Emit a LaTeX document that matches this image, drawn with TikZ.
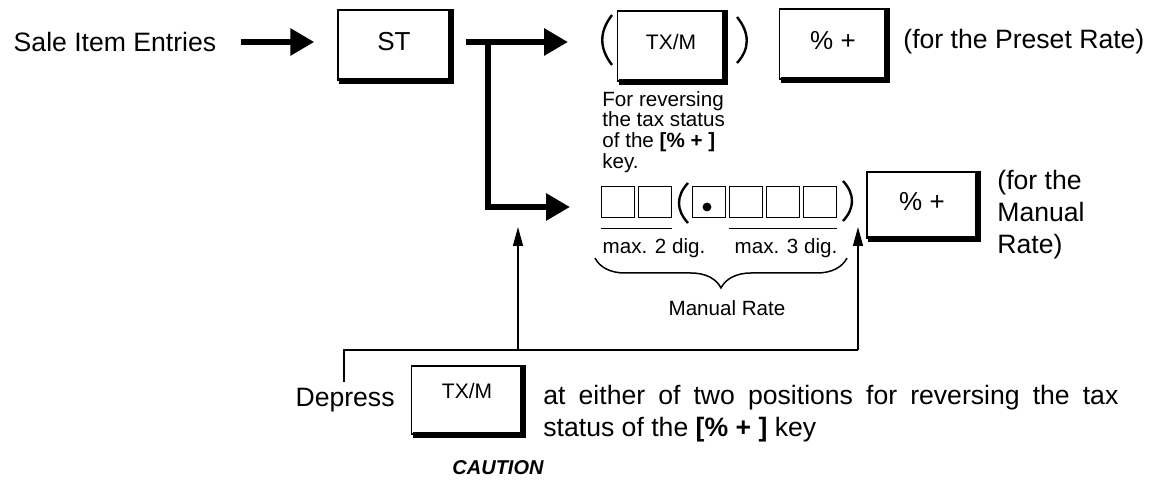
\documentclass[tikz,border=0pt]{standalone}
\usepackage{fontspec}
\setmainfont{Liberation Sans}
\usetikzlibrary{arrows.meta,decorations.pathreplacing}

\tikzset{
  main/.style={font=\fontsize{13.3}{16}\selectfont, inner sep=0pt},
  small/.style={font=\fontsize{10.3}{10.3}\selectfont, inner sep=0pt},
  keybox/.style={draw, line width=0.7pt, minimum width=54pt, minimum height=35pt, inner sep=0pt, text depth=4pt},
  keyshadow/.style={line width=3pt},
  digit/.style={draw, line width=0.9pt, minimum width=16.5pt, minimum height=15.5pt, inner sep=0pt},
  paren/.style={line width=1.2pt},
  bigline/.style={line width=3pt},
  bigarrow/.style={bigline, -{Triangle[length=12pt,width=13pt]}},
  thinline/.style={line width=0.75pt},
  thinarrow/.style={thinline, -{Triangle[length=9.5pt,width=5pt]}},
}

\begin{document}
\begin{tikzpicture}[x=0.5pt,y=-0.5pt]
  \useasboundingbox (0,0) rectangle (1175,480);
  % top row
  \node[main] (sale) at (115,42) {Sale Item Entries};
  \node[keybox, minimum width=56pt, font=\fontsize{13}{13}\selectfont] (st) at (394,45) {ST};
  \node[keybox, minimum width=53.5pt, font=\fontsize{10.5}{10.5}\selectfont] (txa) at (671,46) {TX/M};
  \node[keybox, minimum width=53.5pt, font=\fontsize{13}{13}\selectfont] (pa) at (833,44) {\% +};
  \node[main, anchor=west] (preset) at (903,42) {(for the Preset Rate)};
  \node[small, anchor=north west, align=left] (note) at (602,91) {For reversing\\the tax status\\of the \textbf{[\% + ]}\\key.};
  \draw[paren] (612,15) .. controls (599,32) and (599,48) .. (612,65);
  \draw[paren] (737,17) .. controls (750,33) and (750,49) .. (737,63);
  % arrows from ST
  \coordinate (fork) at (488,42);
  \coordinate (tipa) at (568,42);
  \coordinate (tipb) at (570,207);
  \draw[bigarrow, shorten <=12pt, shorten >=11.5pt] (sale.east) -- (sale.east -| st.west);
  \draw[bigarrow, shorten <=7.5pt] (st.east |- tipa) -- (tipa);
  \draw[bigarrow] (fork) |- (tipb);
  % manual rate digits
  \foreach \x [count=\i] in {618,655,709,746,783,820}
    \node[digit] (d\i) at (\x,202) {};
  \fill (707,207) circle (2.2pt);
  \draw[paren] (688,183) .. controls (676,196) and (676,210) .. (688,223);
  \draw[paren] (843,181) .. controls (855,194) and (855,208) .. (843,221);
  \draw[thinline] ([yshift=-5pt]d1.south west) -- ([yshift=-5pt]d2.south east);
  \draw[thinline] ([yshift=-5pt]d4.south west) -- ([yshift=-5pt]d6.south east);
  \node[small] (maxa) at (654,248) {max. 2 dig.};
  \node[small] (maxb) at (786,248) {max. 3 dig.};
  \draw[thinline, decorate, decoration={brace, mirror, amplitude=15pt}] (595,258) -- (847,258);
  \node[small] (rate) at (727,308) {Manual Rate};
  \node[keybox, minimum width=55pt, minimum height=33pt, font=\fontsize{13}{13}\selectfont] (pb) at (922,205) {\% +};
  \node[main, anchor=west, align=left] (manual) at (997,215) {(for the\\Manual\\Rate)};
  % caution
  \node[main, anchor=east] (depress) at (395,400) {Depress};
  \node[keybox, minimum width=55.5pt, minimum height=34pt, text depth=9pt, font=\fontsize{10.5}{10.5}\selectfont] (txb) at (467,400) {TX/M};
  \node[main, anchor=west, align=left] (either) at (543,414) {\makebox[287.5pt][s]{at either of two positions for reversing the tax}\\status of the \textbf{[\% + ]} key};
  \node[font=\fontsize{10}{10}\selectfont\bfseries\itshape, inner sep=0pt] (caution) at (498,468) {CAUTION};
  \foreach \k in {st,txa,pa,pb,txb}
    \draw[keyshadow] ([xshift=1pt]\k.south west) -| (\k.north east);
  \coordinate (tick) at (344,382);
  \coordinate (jl) at (344,350);
  \coordinate (ja) at (518,350);
  \coordinate (jb) at (858,350);
  \coordinate (upa) at (518,227);
  \coordinate (upb) at (858,227);
  \draw[thinline] (tick) -- (jl) -- (jb);
  \draw[thinarrow] (ja) -- (upa);
  \draw[thinarrow] (jb) -- (upb);
\end{tikzpicture}
\end{document}
